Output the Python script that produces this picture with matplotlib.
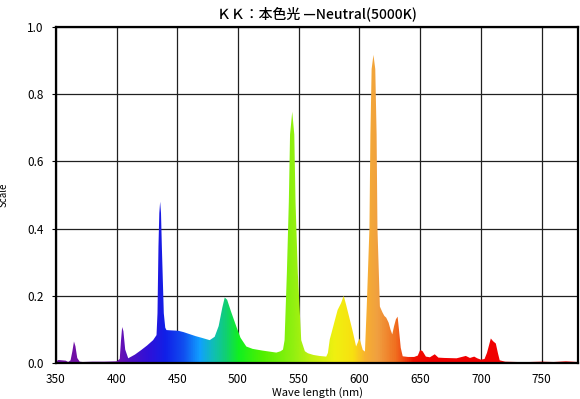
import numpy as np
import matplotlib
matplotlib.use('Agg')
import matplotlib.pyplot as plt
from matplotlib.colors import LinearSegmentedColormap, Normalize
from matplotlib.patches import Polygon

plt.rcParams['font.family'] = ['Noto Sans CJK JP', 'DejaVu Sans']

# spectrum (wavelength nm, relative scale)
wl = [350, 352, 355, 358, 360, 362, 363.5, 364.8, 366, 367.5, 369.5, 372, 380, 390, 400,
      402.5, 403.5, 404.5, 405.5, 407, 409.5, 415, 420, 425, 430, 432.8,
      433.6, 434.4, 435.1, 435.8, 436.5, 437.2, 438.8, 440, 441, 445, 450.6, 455, 460, 465,
      470, 476.6, 480.7, 484, 487, 489, 491, 494, 498.6, 502, 506.8, 512, 520, 531.5, 535,
      537, 538.3, 540.2, 541.8, 542.8, 544.6, 546.3, 547.3, 549.2, 552, 555, 557.5, 562,
      567, 572.6, 574, 575.5, 577, 579.4, 582, 584.8, 587, 589, 591.7, 594.5, 597.2, 600,
      602.7, 604.5, 606, 608.2, 609, 610, 611.5, 613, 614.1, 614.8, 616.8, 619, 620.5, 622,
      624, 625.5, 627, 628.5, 630, 631.4, 632.5, 634, 635.6, 640, 645, 648, 650, 652, 654.7,
      658, 662, 665, 670, 680, 687.6, 691, 694.5, 697, 700, 703, 705, 708.2, 710, 712.3,
      714, 715.5, 720, 730, 740, 750, 760, 770, 780]
val = [0.004, 0.009, 0.008, 0.007, 0.003, 0.008, 0.035, 0.064, 0.05, 0.015, 0.004, 0.003, 0.004, 0.004, 0.005,
       0.012, 0.065, 0.107, 0.095, 0.04, 0.014, 0.025, 0.038, 0.052, 0.068, 0.083,
       0.148, 0.346, 0.446, 0.48, 0.446, 0.346, 0.148, 0.105, 0.098, 0.097, 0.096, 0.092, 0.086, 0.08,
       0.075, 0.068, 0.078, 0.11, 0.165, 0.195, 0.188, 0.155, 0.108, 0.075, 0.049, 0.042, 0.037, 0.031, 0.035,
       0.04, 0.068, 0.27, 0.48, 0.68, 0.748, 0.68, 0.48, 0.268, 0.068, 0.035, 0.029, 0.024,
       0.021, 0.019, 0.03, 0.07, 0.09, 0.123, 0.158, 0.178, 0.2, 0.173, 0.134, 0.093, 0.049, 0.073,
       0.039, 0.034, 0.17, 0.4, 0.68, 0.875, 0.917, 0.875, 0.68, 0.4, 0.168, 0.15, 0.14, 0.135,
       0.12, 0.1, 0.085, 0.11, 0.13, 0.138, 0.1, 0.045, 0.02, 0.018, 0.018, 0.022, 0.039, 0.035, 0.019,
       0.017, 0.026, 0.016, 0.015, 0.014, 0.021, 0.015, 0.019, 0.014, 0.01, 0.012, 0.03, 0.073, 0.065, 0.058,
       0.03, 0.008, 0.004, 0.003, 0.003, 0.004, 0.003, 0.005, 0.003]

xticks = [350, 400, 450, 500, 550, 600, 650, 700, 750]
yticks = [0.0, 0.2, 0.4, 0.6, 0.8, 1.0]

# colour stops along the spectrum
stop_wl = [350, 400, 410, 425, 440, 455, 468, 480, 490, 500, 520, 545, 560, 580, 595, 605, 615, 630, 645, 660, 780]
stop_col = ['#7010A0', '#7010B0', '#5010C0', '#3010D8', '#1020E8', '#1050F0', '#10A0FF', '#10C0B0',
            '#10D070', '#10F020', '#50F000', '#90F010', '#C0F010', '#F0F010', '#F8E010', '#F8B030',
            '#F0A040', '#F07020', '#F01000', '#F00000', '#F00000']
pos = [(w - 350) / 430 for w in stop_wl]
cmap = LinearSegmentedColormap.from_list('spec', list(zip(pos, stop_col)))

fig, ax = plt.subplots(figsize=(5.8, 3.99), dpi=100)
fig.subplots_adjust(left=56/580, right=578/580, bottom=1-363/399, top=1-27/399)

grad = np.linspace(350, 780, 1000).reshape(1, -1)
im = ax.imshow(grad, extent=[350, 780, 0, 1], aspect='auto', cmap=cmap,
               norm=Normalize(350, 780), origin='lower', zorder=2, interpolation='bilinear')
verts = [(wl[0], 0)] + list(zip(wl, val)) + [(wl[-1], 0)]
shape = Polygon(verts, closed=True, facecolor='none', edgecolor='none')
ax.add_patch(shape)
im.set_clip_path(shape)

ax.set_xlim(350, 780)
ax.set_ylim(0, 1.0)
ax.set_xticks(xticks)
ax.set_yticks(yticks)
ax.set_yticklabels(['%.1f' % t for t in yticks])
ax.grid(True, color='#202020', lw=0.9)
ax.set_axisbelow(True)
for s in ax.spines.values():
    s.set_linewidth(1.6)
    s.set_color('black')
ax.tick_params(axis='y', direction='out', length=3, labelsize=8.5, pad=6)
ax.tick_params(axis='x', direction='in', length=2, labelsize=8.5, pad=7)

ax.set_title('ＫＫ：本色光 —Neutral(5000K)', fontsize=10, pad=6, fontweight='medium')
ax.set_xlabel('Wave length (nm)', fontsize=8, labelpad=1)
ax.set_ylabel('Scale', fontsize=7)
ax.yaxis.set_label_coords(-0.09, 0.5)

plt.savefig('out.png', dpi=100)
